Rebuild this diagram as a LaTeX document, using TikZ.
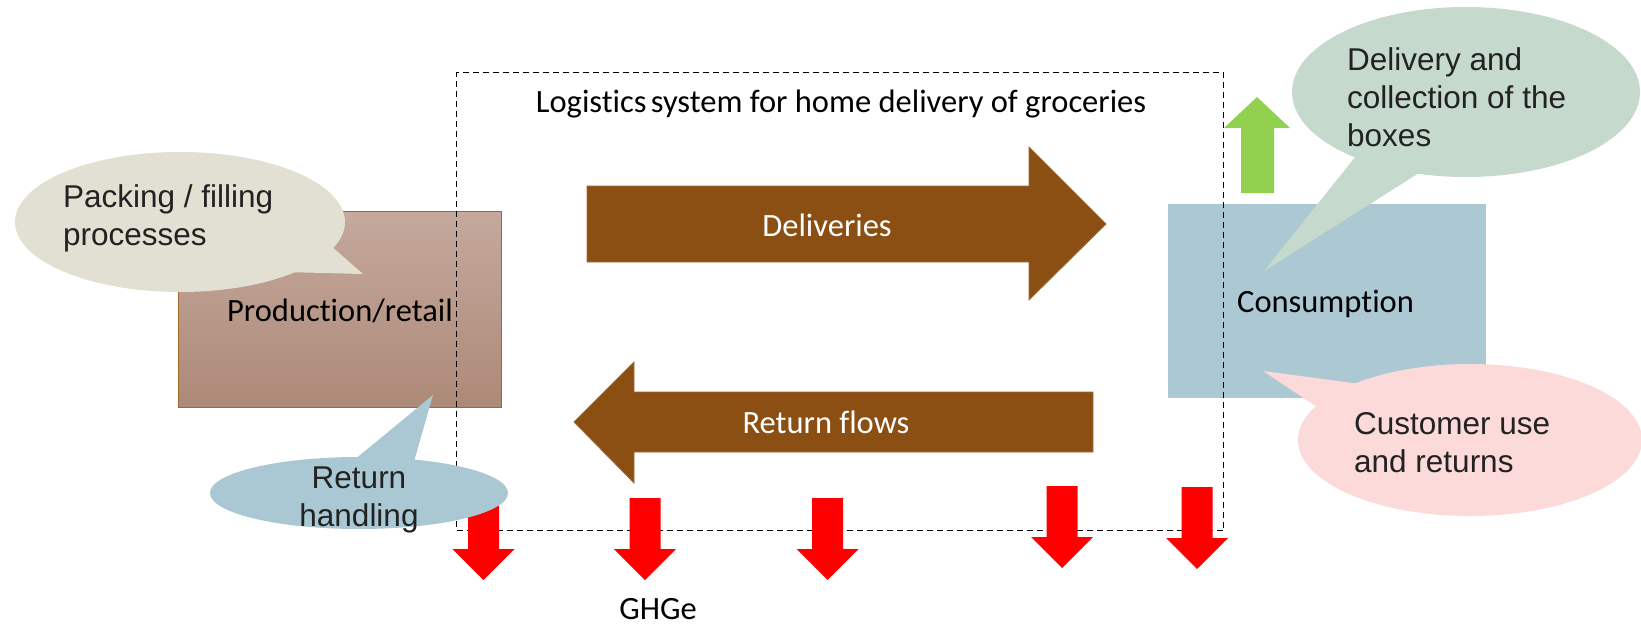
\documentclass[tikz,border=0pt]{standalone}
\usepackage{fontspec}
\setmainfont{Carlito}[Ligatures=NoCommon]
\newfontfamily\arialfont{Liberation Sans}
\definecolor{prodtop}{HTML}{C5A99D}
\definecolor{prodbot}{HTML}{AD8977}
\definecolor{prodedge}{HTML}{A3662F}
\definecolor{consfill}{HTML}{ABC8D3}
\definecolor{flowbrown}{HTML}{8B4F14}
\definecolor{flowedge}{HTML}{A06A35}
\definecolor{ghgred}{HTML}{FF0000}
\definecolor{upgreen}{HTML}{92D050}
\definecolor{packfill}{HTML}{E1E0D2}
\definecolor{handlefill}{HTML}{AAC8D4}
\definecolor{collectfill}{HTML}{C5D9CD}
\definecolor{usefill}{HTML}{FCDADA}
\definecolor{bubbleink}{HTML}{222222}
\tikzset{
  ghgarrow/.pic={
    \fill[ghgred] (-15.5,0) -- (15.5,0) -- (15.5,51) -- (31,51) -- (0,82)
      -- (-31,51) -- (-15.5,51) -- cycle;
  }
}
\begin{document}
\begin{tikzpicture}[x=1pt,y=-1pt,
  boxlabel/.style={font=\fontsize{32.5}{39}\selectfont, inner sep=0pt, text=black},
  bubbletext/.style={font=\arialfont\fontsize{31.5}{38}\selectfont, text=bubbleink,
    inner sep=0pt, align=left},
  flow/.style={fill=flowbrown, draw=flowedge, line width=0.8pt, line join=miter},
]
\useasboundingbox (0,0) rectangle (1641,624);

% stage boxes
\node[anchor=north west, minimum width=323pt, minimum height=196pt, inner sep=0pt,
  outer sep=0pt, top color=prodtop, bottom color=prodbot, draw=prodedge,
  line width=1pt] (prod) at (178,211) {};
\node[anchor=north west, minimum width=318pt, minimum height=194pt, inner sep=0pt,
  outer sep=0pt, fill=consfill] (cons) at (1168,204) {};
\node[boxlabel, anchor=base] (prodlabel) at (340,321) {Production/retail};
\node[boxlabel, anchor=base west] (conslabel) at (1237,312) {Consumption};

% system boundary
\node[anchor=north west, minimum width=767pt, minimum height=458pt, inner sep=0pt,
  draw=black, line width=1.2pt, dash pattern=on 6pt off 4pt] (system) at (456,72) {};
\node[boxlabel, anchor=base] (title) at (841,112)
  {Logistics\hspace{-3pt} system for home delivery of groceries};

% emissions
\pic at (483.5,498) {ghgarrow};
\pic at (645,498) {ghgarrow};
\pic at (827.5,498) {ghgarrow};
\pic at (1062,486) {ghgarrow};
\pic at (1197,487) {ghgarrow};
\node[boxlabel, anchor=base] (ghglabel) at (658,619) {GHGe};

% box delivery arrow
\fill[upgreen] (1241,193) -- (1241,128) -- (1224,128) -- (1257,97) -- (1290,128)
  -- (1274,128) -- (1274,193) -- cycle;

% main flows
\path[flow] (587,186) -- (1029,186) -- (1029,147) -- (1106,224) -- (1029,300)
  -- (1029,262) -- (587,262) -- cycle;
\node[boxlabel, anchor=base, text=white] (delivlabel) at (827,236) {Deliveries};
\path[flow] (1093,392) -- (634,392) -- (634,362) -- (574,422) -- (634,483)
  -- (634,452) -- (1093,452) -- cycle;
\node[boxlabel, anchor=base, text=white] (retlabel) at (826,433) {Return flows};

% callouts
\fill[packfill] (180,222) ellipse [x radius=165pt, y radius=70pt];
\fill[packfill] (322,238) -- (363,274) -- (285,272) -- cycle;
\node[bubbletext, anchor=west] (packing) at (63,218) {Packing / filling\\processes};

\fill[handlefill] (359,493) ellipse [x radius=149pt, y radius=36pt];
\fill[handlefill] (348,465) -- (433,395) -- (413,465) -- cycle;
\node[bubbletext, align=center] (handling) at (359,500) {Return\\handling};

\fill[collectfill] (1466,92) ellipse [x radius=174pt, y radius=85pt];
\fill[collectfill] (1368,141) -- (1264,271) -- (1430,166) -- cycle;
\node[bubbletext, anchor=west] (collect) at (1347,97)
  {Delivery and\\collection of the\\boxes};

\fill[usefill] (1470,440) ellipse [x radius=172pt, y radius=76pt];
\fill[usefill] (1335,419) -- (1263,371) -- (1390,388) -- cycle;
\node[bubbletext, anchor=west] (use) at (1354,443) {Customer use\\and returns};
\end{tikzpicture}
\end{document}
